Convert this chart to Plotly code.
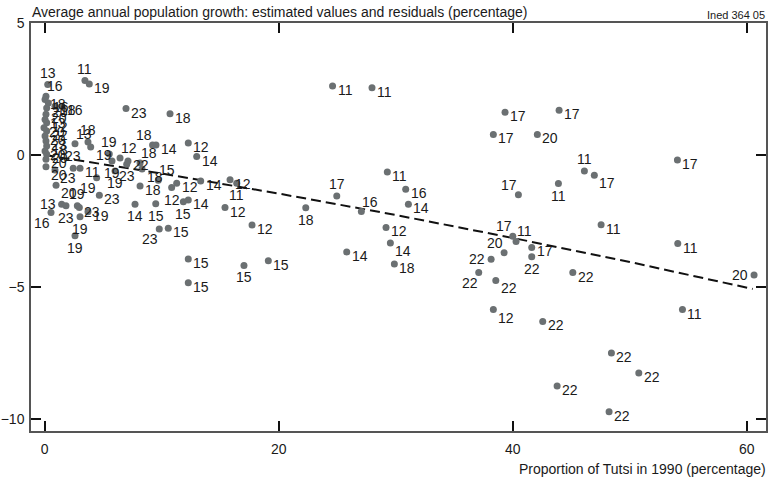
import plotly.graph_objects as go

# ---- data ----
x_vals = [
    0.26, 3.44, 3.81, 6.95, 10.71, 9.22, 9.51, 12.27, 12.99,
    0.11, 0.03, 0.31, 0.17, 0.88, 1.48, 0.11, 0.03, 0.17, -0.06, 0.17, 0.03, 0.11, 0.17, 0.03, 0.17, 0.11, 0.11,
    0.88, 2.44, 3.02, 2.59, 3.70, 3.93, 5.52, 6.44, 7.12, 8.15, 8.32, 5.75,
    0.97, 4.44, 6.01, 7.01, 4.67, 1.45, 1.82, 2.79, 2.96, 3.02, 3.70, 0.54, 2.59,
    7.72, 9.49, 9.79, 10.56, 8.15, 9.71, 10.85, 11.28,
    13.33, 15.84, 16.41, 11.85, 12.27, 15.41, 17.72, 12.27, 12.27, 17.03, 19.11,
    24.60, 27.97, 22.31, 24.96, 27.06, 29.28, 30.85, 31.08, 29.17, 29.54, 25.81, 29.88,
    38.34, 39.34, 43.96, 42.10, 46.12, 46.97, 54.07, 40.48, 43.90, 47.55, 54.10, 60.62,
    40.00, 40.28, 39.26, 41.62, 41.62, 38.15, 37.09, 38.55, 45.13, 38.34, 42.56, 54.50,
    48.43, 50.77, 43.79, 48.23,
]
y_vals = [
    2.67, 2.82, 2.69, 1.76, 1.56, 0.38, 0.38, 0.46, -0.06,
    2.23, 2.10, 1.97, 1.78, 1.85, 1.85, 1.54, 1.35, 1.22, 1.03, 0.91, 0.72, 0.53, 0.34, 0.15, 0.03, -0.16, -0.44,
    -0.57, -0.50, -0.50, 0.43, 0.49, 0.30, 0.04, -0.11, -0.23, -0.30, -0.53, -0.23,
    -1.14, -0.86, -0.60, -0.35, -1.52, -1.86, -1.92, -1.92, -1.99, -2.34, -2.15, -2.18, -3.06,
    -1.86, -1.84, -2.80, -2.77, -1.17, -0.95, -1.23, -1.07,
    -0.98, -0.94, -1.07, -1.77, -1.70, -1.99, -2.65, -3.94, -4.84, -4.18, -4.00,
    2.61, 2.55, -2.00, -1.55, -2.14, -0.64, -1.30, -1.86, -2.74, -3.33, -3.67, -4.13,
    0.78, 1.62, 1.70, 0.78, -0.60, -0.77, -0.19, -1.50, -1.08, -2.64, -3.35, -4.54,
    -3.08, -3.27, -3.70, -3.50, -3.85, -3.95, -4.45, -4.75, -4.45, -5.85, -6.30, -5.85,
    -7.50, -8.25, -8.75, -9.72,
]
labels = [
    "13", "11", "19", "23", "18", "18", "14", "12", "14",
    "16", "18", "16", "20", "18", "16", "20", "13", "12", "20", "22", "20", "23", "18", "20", "20", "20", "20",
    "23", "23", "11", "13", "18", "19", "19", "12", "22", "18", "18", "19",
    "20", "19", "19", "23", "23", "13", "23", "19", "23", "19", "19", "16", "19",
    "14", "15", "23", "15", "18", "15", "12", "12",
    "14", "12", "11", "15", "14", "12", "12", "15", "15", "15", "15",
    "11", "11", "18", "17", "16", "11", "16", "14", "12", "14", "14", "18",
    "17", "17", "17", "20", "11", "17", "17", "17", "11", "11", "11", "20",
    "17", "11", "20", "17", "22", "22", "22", "22", "22", "12", "22", "11",
    "22", "22", "22", "22",
]
# fitted curve (estimated values)
fit_x = [0, 10, 20, 30, 40, 50, 60.5]
fit_y = [0.0, -0.70, -1.46, -2.27, -3.14, -4.05, -5.07]

x_ticks = [0, 20, 40, 60]
y_ticks = [-10, -5, 0, 5]

title_text = "Average annual population growth: estimated values and residuals (percentage)"
source_text = "Ined 364 05"
x_title = "Proportion of Tutsi in 1990 (percentage)"

# ---- label placement (style) ----
label_pos = [
    "a", "a", "r", "r", "r", "al", "r", "r", "r",
    "ar", "r", "r", "r", "r", "r", "r", "r", "r", "r", "r", "r", "r", "r", "r", "r", "r", "br",
    "br", "a", "r", "ar", "a", "br", "a", "ar", "r", "ar", "br", "b",
    "br", "bl", "b", "b", "r", "l", "b", "a", "r", "b", "r", "bl", "b",
    "b", "b", "bl", "r", "r", "ar", "b", "r",
    "r", "r", "b", "b", "r", "r", "r", "r", "r", "b", "r",
    "r", "r", "b", "a", "ar", "r", "r", "r", "r", "br", "r", "r",
    "r", "r", "r", "r", "a", "br", "r", "al", "b", "r", "r", "l",
    "al", "ar", "al", "r", "b", "l", "bl", "br", "r", "br", "r", "r",
    "r", "r", "r", "r",
]
pos_style = {
    "r": dict(xanchor="left", yanchor="middle", xshift=4, yshift=-4),
    "br": dict(xanchor="left", yanchor="middle", xshift=4, yshift=-8),
    "l": dict(xanchor="right", yanchor="middle", xshift=-5, yshift=0),
    "a": dict(xanchor="center", yanchor="bottom", xshift=0, yshift=3),
    "b": dict(xanchor="center", yanchor="top", xshift=0, yshift=-3),
    "ar": dict(xanchor="left", yanchor="bottom", xshift=0, yshift=1),
    "al": dict(xanchor="right", yanchor="bottom", xshift=0, yshift=1),
    "bl": dict(xanchor="right", yanchor="top", xshift=0, yshift=-1),
}

FONT = "Liberation Sans, Arial, Helvetica, sans-serif"
TXT = "#1a1a1a"

fig = go.Figure()
fig.add_trace(go.Scatter(
    x=fit_x, y=fit_y, mode="lines",
    line=dict(color="#111111", width=2, dash="10px,5px"),
    hoverinfo="skip", showlegend=False,
))
fig.add_trace(go.Scatter(
    x=x_vals, y=y_vals, mode="markers",
    marker=dict(size=7, color="#6b7072", line=dict(width=0)),
    text=labels, showlegend=False,
))

annotations = []
for xv, yv, lab, p in zip(x_vals, y_vals, labels, label_pos):
    st = pos_style[p]
    annotations.append(dict(
        x=xv, y=yv, xref="x", yref="y", text=lab, showarrow=False,
        font=dict(family=FONT, size=14, color=TXT), borderpad=0, **st,
    ))

annotations.append(dict(
    x=0, y=1, xref="paper", yref="paper", text=title_text, showarrow=False,
    xanchor="left", yanchor="bottom", xshift=-1, yshift=1,
    font=dict(family=FONT, size=14, color=TXT),
))
annotations.append(dict(
    x=1, y=1, xref="paper", yref="paper", text=source_text, showarrow=False,
    xanchor="right", yanchor="bottom", xshift=1, yshift=0,
    font=dict(family=FONT, size=11, color=TXT),
))
annotations.append(dict(
    x=1, y=0, xref="paper", yref="paper", text=x_title, showarrow=False,
    xanchor="right", yanchor="middle", xshift=2, yshift=-38,
    font=dict(family=FONT, size=14, color=TXT),
))

axis_common = dict(
    showgrid=False, zeroline=False, showline=True, linecolor="#555555", linewidth=1.5,
    mirror="ticks", ticks="inside", ticklen=10, tickwidth=1.5, tickcolor="#111111",
    tickfont=dict(family=FONT, size=14, color=TXT), automargin=False,
)

fig.update_layout(
    template="none",
    width=772, height=481,
    margin=dict(l=31, r=6, t=23, b=50, autoexpand=False),
    paper_bgcolor="white", plot_bgcolor="white",
    xaxis=dict(range=[-1.17, 61.64], tickvals=x_ticks, ticklabelstandoff=4, **axis_common),
    yaxis=dict(range=[-10.45, 5.0], tickvals=y_ticks, ticklabelstandoff=2, **axis_common),
    annotations=annotations,
    showlegend=False,
)

fig.write_html(
    "out.html",
    config={"displayModeBar": False},
    post_script="document.body.style.margin='0';document.body.style.overflow='hidden';",
)
